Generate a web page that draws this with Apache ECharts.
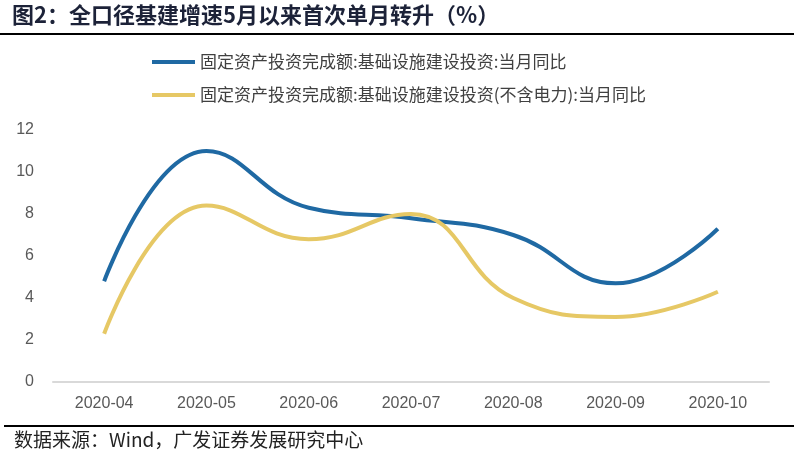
<!DOCTYPE html>
<html><head><meta charset="utf-8">
<script src="https://cdn.jsdelivr.net/npm/echarts@6/dist/echarts.min.js"></script>
<style>html,body{margin:0;padding:0;background:#fff}#c{width:794px;height:463px}</style>
</head><body><div id="c"></div>
<script>
const categories = ['2020-04','2020-05','2020-06','2020-07','2020-08','2020-09','2020-10'];
const seriesNames = ['固定资产投资完成额:基础设施建设投资:当月同比','固定资产投资完成额:基础设施建设投资(不含电力):当月同比'];
const infraAll = [4.8, 11.0, 8.3, 7.8, 7.0, 4.7, 7.3];
const infraExPower = [2.3, 8.4, 6.8, 8.0, 4.0, 3.1, 4.3];
const yTicks = [0, 2, 4, 6, 8, 10, 12];
const titleText = '图2：全口径基建增速5月以来首次单月转升（%）';
const sourceText = '数据来源：Wind，广发证券发展研究中心';

const chart = echarts.init(document.getElementById('c'));
const cjk = '"Noto Sans CJK SC", sans-serif';
chart.setOption({
  animation: false,
  backgroundColor: '#fff',
  grid: {left: 53, right: 25, top: 130, bottom: 81, containLabel: false},
  legend: {
    orient: 'vertical', left: 147, top: 48, itemGap: 15,
    icon: 'rect', itemWidth: 43, itemHeight: 4,
    textStyle: {fontFamily: cjk, fontSize: 17, color: '#404040', lineHeight: 18},
    data: seriesNames
  },
  xAxis: {
    type: 'category', data: categories, boundaryGap: true,
    axisLine: {lineStyle: {color: '#d9d9d9', width: 2}},
    axisTick: {show: false},
    axisLabel: {color: '#595959', fontSize: 16, fontFamily: 'Liberation Sans, Arial', margin: 14}
  },
  yAxis: {
    type: 'value', min: yTicks[0], max: yTicks[yTicks.length-1], interval: 2,
    axisLine: {show: false}, axisTick: {show: false}, splitLine: {show: false},
    axisLabel: {color: '#595959', fontSize: 16, fontFamily: 'Liberation Sans, Arial', margin: 19}
  },
  series: [
    {name: seriesNames[0], type: 'line', data: infraAll, smooth: 0.45, symbol: 'none',
     lineStyle: {color: '#1f69a3', width: 4}, itemStyle: {color: '#1f69a3'}},
    {name: seriesNames[1], type: 'line', data: infraExPower, smooth: 0.45, symbol: 'none',
     lineStyle: {color: '#e6c865', width: 4}, itemStyle: {color: '#e6c865'}}
  ],
  graphic: [
    {type: 'text', left: 12, top: 4, style: {text: titleText, fontFamily: cjk, fontWeight: 'bold', fontSize: 22, fill: '#1c2238'}},
    {type: 'line', shape: {x1: 0, y1: 34, x2: 794, y2: 34}, style: {stroke: '#000', lineWidth: 2}},
    {type: 'line', shape: {x1: 4, y1: 426, x2: 794, y2: 426}, style: {stroke: '#000', lineWidth: 2}},
    {type: 'text', left: 14, top: 430, style: {text: sourceText, fontFamily: cjk, fontSize: 19, fill: '#222'}}
  ]
});
</script></body></html>
